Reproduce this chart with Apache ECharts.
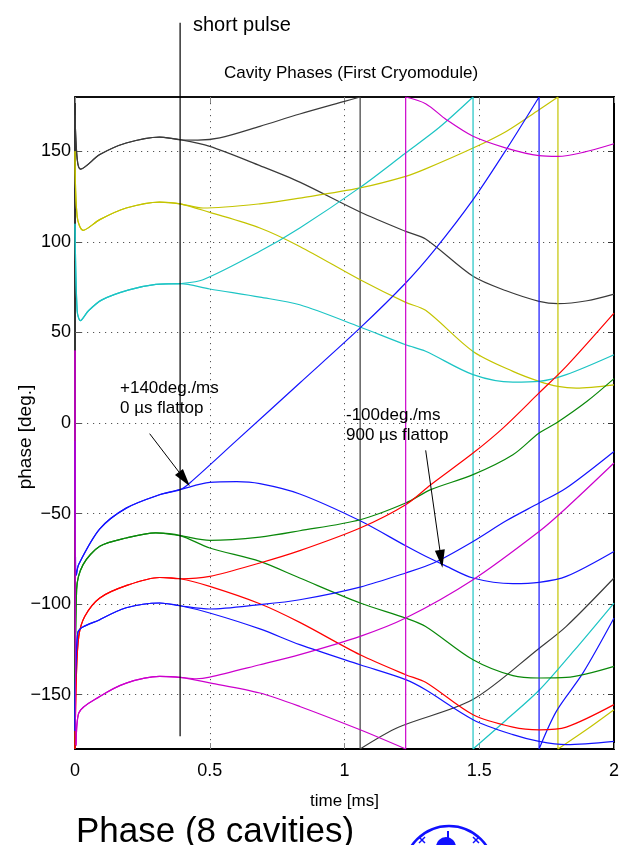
<!DOCTYPE html>
<html><head><meta charset="utf-8">
<script src="https://cdn.jsdelivr.net/npm/echarts@6/dist/echarts.min.js"></script>
<style>html,body{margin:0;padding:0;background:#fff}#c{width:624px;height:845px}</style>
</head><body><div id="c"></div>
<script>
// ---- axis ticks ----
const xTicks = [0, 0.5, 1, 1.5, 2];
const yTicks = [-150, -100, -50, 0, 50, 100, 150];
const flattopEnd = 1.301;   // end of 900 us flattop (kink)
const pulseLine = [[0.39, -173], [0.39, 221]];
const arrow1 = [[0.277, -5.9], [0.406, -31.0]];
const arrow2 = [[1.3012, -15.1], [1.3585, -75.0]];

// ---- cavity traces: common filling part + two branches ----
const blackStart = [[0,170],[0.008,146],[0.02,140.2],[0.092,148.2],[0.19,154.6],[0.314,157.9],[0.39,156.4]];
const blackUp = [[0.456,156.2],[0.537,157.4],[0.686,163.8],[0.834,170.6],[1.0,177.6],[1.058,180],[1.058,-180],[1.2,-168],[1.476,-152.7],[1.724,-124.2],[1.823,-112.3],[2.0,-85.6]];
const blackDown = [[0.5,152.7],[0.686,142.1],[0.834,133],[1.058,116.5],[1.227,105.8],[1.301,101.6],[1.477,81],[1.6,73],[1.722,67.2],[1.792,65.9],[1.9,67.5],[2.0,71.2]];

const yellowStart = [[0,150],[0.008,114],[0.03,106.4],[0.092,112.3],[0.19,118.7],[0.314,122],[0.39,121]];
const yellowUp = [[0.475,118.7],[0.686,121],[0.834,124.2],[1.058,129.8],[1.227,136.2],[1.301,140.3],[1.477,151.8],[1.6,161],[1.722,173],[1.792,180],[1.792,-180],[1.897,-169.4],[2.0,-158.3]];
const yellowDown = [[0.5,116.3],[0.686,107.7],[0.834,97.5],[1.058,79.1],[1.227,66.6],[1.301,62.2],[1.477,39.5],[1.625,28.5],[1.722,23],[1.792,20.2],[1.86,19.3],[2.0,21.1]];

const cyanStart = [[0,110],[0.008,62],[0.02,56.5],[0.05,62],[0.1,68],[0.2,73.5],[0.3,76.5],[0.39,77]];
const cyanUp = [[0.475,79.1],[0.686,94.8],[0.834,107.7],[1.058,130.1],[1.227,149.1],[1.35,163],[1.477,180],[1.477,-180],[1.6,-164],[1.724,-147.3],[1.85,-126],[2.0,-99.4]];
const cyanDown = [[0.5,74],[0.686,69.5],[0.834,65.3],[1.058,53],[1.227,43.2],[1.301,39.6],[1.477,26.7],[1.625,22.6],[1.722,23],[1.823,26.7],[2.0,37.7]];

const blue1Start = [[0,-10],[0.005,-84],[0.014,-78],[0.092,-58.5],[0.19,-47],[0.314,-39.6],[0.39,-36.8]];
const blue1Up = [[0.426,-33.1],[0.6,-9.6],[0.834,22.1],[1.058,52.5],[1.227,77.3],[1.335,95.7],[1.477,123.3],[1.6,150.9],[1.722,180],[1.722,-180],[1.786,-159.2],[1.885,-138],[2.0,-107.7]];
const blue1Down = [[0.5,-32.8],[0.6,-32.4],[0.686,-33.5],[0.834,-39.2],[1.058,-54],[1.227,-67.8],[1.301,-73.6],[1.366,-78.2],[1.477,-85.6],[1.625,-88.7],[1.722,-88],[1.823,-84.7],[2.0,-70.9]];

const greenStart = [[0,-180],[0.006,-92],[0.03,-78.2],[0.092,-68.1],[0.19,-63.5],[0.3,-60.7],[0.39,-62.2]];
const greenUp = [[0.5,-64.8],[0.686,-63],[0.834,-59.5],[1.058,-53.4],[1.227,-44.2],[1.32,-36.8],[1.477,-28.5],[1.625,-17.5],[1.722,-5.5],[1.786,0],[1.9,12],[2.0,24.5]];
const greenDown = [[0.5,-69],[0.686,-76.4],[0.834,-85.6],[1.058,-99.4],[1.227,-107.7],[1.301,-112.3],[1.477,-130.7],[1.625,-139.5],[1.722,-140.8],[1.823,-140.5],[2.0,-134.4]];

const redStart = [[0,-180],[0.005,-140],[0.014,-117.8],[0.036,-106.8],[0.092,-96.6],[0.19,-89.8],[0.314,-85.3],[0.39,-86]];
const redUp = [[0.5,-84.7],[0.686,-77.3],[0.834,-70.5],[1.058,-58],[1.227,-45.1],[1.32,-34.1],[1.477,-16.6],[1.588,-2.8],[1.722,16.6],[1.823,31.3],[2.0,60.7]];
const redDown = [[0.5,-90.2],[0.686,-99.8],[0.834,-110.1],[1.058,-128],[1.227,-139],[1.301,-143.2],[1.477,-161.1],[1.625,-167.9],[1.722,-169.4],[1.823,-167.9],[2.0,-155.5]];

const blue2Start = [[0,-170],[0.01,-116],[0.092,-108.6],[0.19,-102],[0.314,-99.4],[0.39,-100.9]];
const blue2Up = [[0.5,-102.7],[0.686,-100.3],[0.834,-97.6],[1.058,-90.6],[1.227,-82.8],[1.335,-77],[1.477,-65.4],[1.6,-54],[1.722,-44.2],[1.823,-35.9],[2.0,-15.7]];
const blue2Down = [[0.5,-104.9],[0.686,-113.7],[0.834,-122.4],[1.058,-133.5],[1.227,-141.7],[1.301,-147.3],[1.477,-163.8],[1.625,-172.1],[1.722,-175.8],[1.823,-177.6],[2.0,-175.8]];

const magentaStart = [[0,40],[0.004,-178],[0.014,-160.1],[0.092,-151],[0.19,-143.6],[0.314,-139.9],[0.39,-140.5]];
const magentaUp = [[0.45,-141.2],[0.5,-140.3],[0.686,-133.5],[0.834,-127.9],[1.058,-117.8],[1.227,-107.7],[1.477,-86.5],[1.722,-59.9],[1.823,-46.9],[2.0,-22.1]];
const magentaDown = [[0.5,-143.5],[0.686,-149.1],[0.834,-156.5],[1.058,-169.4],[1.227,-180],[1.227,180],[1.301,176.3],[1.378,167.5],[1.477,158.3],[1.6,151.8],[1.722,147.6],[1.792,147.2],[1.885,149.4],[2.0,154.2]];

const cavities = [
  {name:'black',   color:'#3a3a3a', start:blackStart,   up:blackUp,   down:blackDown},
  {name:'yellow',  color:'#c4c400', start:yellowStart,  up:yellowUp,  down:yellowDown},
  {name:'cyan',    color:'#1cc4c4', start:cyanStart,    up:cyanUp,    down:cyanDown},
  {name:'blue1',   color:'#1414ff', start:blue1Start,   up:blue1Up,   down:blue1Down},
  {name:'green',   color:'#0a880a', start:greenStart,   up:greenUp,   down:greenDown},
  {name:'red',     color:'#ff0000', start:redStart,     up:redUp,     down:redDown},
  {name:'blue2',   color:'#1414ff', start:blue2Start,   up:blue2Up,   down:blue2Down},
  {name:'magenta', color:'#cc00cc', start:magentaStart, up:magentaUp, down:magentaDown}
];

const FS = "'Liberation Sans',Arial,Helvetica,sans-serif";

// duplicate wrap points / kink points so smoothing keeps them sharp
function prep(pts) {
  const out = [];
  for (let i = 0; i < pts.length; i++) {
    const p = pts[i];
    const wrap = (i + 1 < pts.length && pts[i+1][0] === p[0]) || (i > 0 && pts[i-1][0] === p[0]);
    out.push(p);
    if (wrap || p[0] === flattopEnd) out.push(p);
  }
  return out;
}

const series = [];
cavities.forEach(c => {
  ['up','down'].forEach(k => {
    series.push({
      type:'line', name:c.name + ' ' + k, data: prep(c.start.concat(c[k])),
      showSymbol:false, symbol:'none', smooth:0.3, silent:true, animation:false,
      lineStyle:{color:c.color, width:1.2}, z:3
    });
  });
});
series.push({
  type:'line', name:'short pulse', data: pulseLine, showSymbol:false, symbol:'none',
  clip:false, silent:true, animation:false, lineStyle:{color:'#000', width:1.2}, z:5,
  markLine:{
    silent:true, animation:false, symbol:['none','triangle'], symbolSize:[10,18],
    label:{show:false}, lineStyle:{color:'#000', width:1, type:'solid'},
    data:[
      [{coord:arrow1[0]},{coord:arrow1[1]}],
      [{coord:arrow2[0]},{coord:arrow2[1]}]
    ]
  }
});

const minus = v => String(v).replace('-', '\u2212');

const option = {
  animation:false,
  backgroundColor:'#fff',
  title:{
    text:'Cavity Phases (First Cryomodule)', left:346, top:60, textAlign:'center',
    textStyle:{fontFamily:FS, fontSize:17, fontWeight:'normal', color:'#000'}
  },
  grid:{left:75, right:10, top:97, bottom:96, show:true, borderColor:'#000', borderWidth:1.5, containLabel:false},
  xAxis:[
    {type:'value', min:0, max:2, interval:0.5, position:'bottom',
     name:'time [ms]', nameLocation:'middle', nameGap:44,
     nameTextStyle:{fontFamily:FS, fontSize:17, color:'#000'},
     axisLine:{show:true, onZero:false, lineStyle:{color:'#000', width:2}},
     axisTick:{show:true, inside:true, length:6, lineStyle:{color:'#888'}},
     axisLabel:{fontFamily:FS, fontSize:18, color:'#000', margin:13},
     splitLine:{show:true, lineStyle:{color:'#555', width:1, type:[1.2,4.8]}}},
    {type:'value', min:0, max:2, interval:0.5, position:'top',
     axisLine:{show:true, onZero:false, lineStyle:{color:'#000', width:1.5}},
     axisTick:{show:true, inside:true, length:6, lineStyle:{color:'#888'}},
     axisLabel:{show:false}, splitLine:{show:false}}
  ],
  yAxis:[
    {type:'value', min:-180, max:180, position:'left',
     axisLine:{show:true, onZero:false, lineStyle:{color:'#333', width:2}},
     axisTick:{show:true, inside:true, length:6, customValues:yTicks, lineStyle:{color:'#555'}},
     axisLabel:{fontFamily:FS, fontSize:18, color:'#000', margin:4, customValues:yTicks, formatter:minus},
     splitLine:{show:true, lineStyle:{color:'#555', width:1, type:[1.2,4.8]}}},
    {type:'value', min:-180, max:180, position:'right',
     axisLine:{show:true, onZero:false, lineStyle:{color:'#000', width:2}},
     axisTick:{show:true, inside:true, length:6, customValues:yTicks, lineStyle:{color:'#333'}},
     axisLabel:{show:false}, splitLine:{show:false}}
  ],
  series: series,
  graphic:[
    {type:'text', x:193, y:15, z:10, style:{text:'short pulse', fontFamily:FS, fontSize:20, fill:'#000'}},
    {type:'text', x:26, y:437, rotation:Math.PI/2, z:10,
     style:{text:'phase [deg.]', fontFamily:FS, fontSize:19, fill:'#000', align:'center', verticalAlign:'middle'}},
    {type:'text', x:120, y:378, z:10, style:{text:'+140deg./ms\n0 \u00b5s flattop', fontFamily:FS, fontSize:17, lineHeight:20, fill:'#000'}},
    {type:'text', x:346, y:406, z:10, style:{text:'-100deg./ms\n900 \u00b5s flattop', fontFamily:FS, fontSize:17, lineHeight:19.5, fill:'#000'}},
    {type:'text', x:76, y:815, z:10, style:{text:'Phase (8 cavities)', fontFamily:FS, fontSize:35, fill:'#000'}},
    {type:'group', z:10, children:[
      {type:'circle', shape:{cx:449, cy:871, r:45}, style:{fill:'none', stroke:'#1010ff', lineWidth:2.5}},
      {type:'circle', shape:{cx:446, cy:847, r:10}, style:{fill:'#1010ff'}},
      {type:'line', shape:{x1:448, y1:831, x2:448, y2:838}, style:{stroke:'#1010ff', lineWidth:2}},
      {type:'line', shape:{x1:419, y1:837, x2:425, y2:843}, style:{stroke:'#1010ff', lineWidth:1.5}},
      {type:'line', shape:{x1:425, y1:837, x2:419, y2:843}, style:{stroke:'#1010ff', lineWidth:1.5}},
      {type:'line', shape:{x1:473, y1:837, x2:479, y2:843}, style:{stroke:'#1010ff', lineWidth:1.5}},
      {type:'line', shape:{x1:479, y1:837, x2:473, y2:843}, style:{stroke:'#1010ff', lineWidth:1.5}}
    ]}
  ]
};
const chart = echarts.init(document.getElementById('c'), null, {renderer:'canvas'});
chart.setOption(option);
</script>
</body></html>
